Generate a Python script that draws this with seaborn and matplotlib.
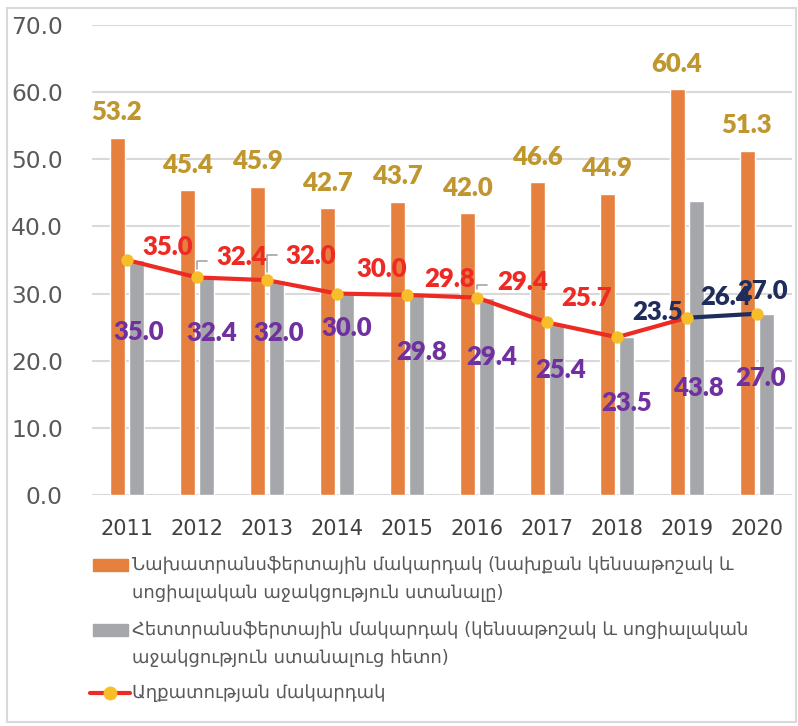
import matplotlib
matplotlib.use("Agg")
import matplotlib.pyplot as plt
import seaborn as sns
import pandas as pd
import numpy as np
from matplotlib.patches import Rectangle
from matplotlib.lines import Line2D

# --- Daten ---
years = ['2011', '2012', '2013', '2014', '2015', '2016', '2017', '2018', '2019', '2020']
pre_transfer = [53.2, 45.4, 45.9, 42.7, 43.7, 42.0, 46.6, 44.9, 60.4, 51.3]
post_transfer = [35.0, 32.4, 32.0, 30.0, 29.8, 29.4, 25.4, 23.5, 43.8, 27.0]
poverty = [35.0, 32.4, 32.0, 30.0, 29.8, 29.4, 25.7, 23.5, 26.4, 27.0]

name_pre = 'Նախատրանսֆերտային մակարդակ (նախքան կենսաթոշակ և\nսոցիալական աջակցություն ստանալը)'
name_post = 'Հետտրանսֆերտային մակարդակ (կենսաթոշակ և սոցիալական\nաջակցություն ստանալուց հետո)'
name_pov = 'Աղքատության մակարդակ'

# label layout (pixel offsets from the marker / bar)
pov_dx = [41, 45, 44, 45, 43, 46, 40, 41, 39, 6]
pov_dy = [13, 20, 24, 25, 16, 16, 24, 25, 21, 23]
post_label_y = [24.3, 24.1, 24.1, 24.9, 21.3, 20.6, 18.6, 13.7, 15.9, 17.4]
post_label_dx = [12, 15, 12, 10, 15, 15, 14, 10, 11, 4]
leaders = {1: 16, 2: 25, 5: 13}  # index -> height of leader line in px

# colours
c_orange = '#E6803F'
c_gray = '#A6A7AB'
c_red = '#EE2A24'
c_navy = '#1F2D5C'
c_yellow = '#F7BE2A'
c_gold = '#C0962E'
c_purple = '#7030A0'

df = pd.DataFrame({
    'year': years * 2,
    'value': pre_transfer + post_transfer,
    'series': ['pre'] * len(years) + ['post'] * len(years),
})

sns.set_style("white")
plt.rcParams['font.family'] = ['DejaVu Sans']

fig = plt.figure(figsize=(7.98, 7.26), dpi=100)
W, H = 798, 726
ax = fig.add_axes([92 / W, 1 - 495 / H, 700 / W, 470 / H])

sns.barplot(data=df, x='year', y='value', hue='series', palette=[c_orange, c_gray],
            width=0.57, gap=0.25, saturation=1, legend=False, ax=ax, zorder=2)

pos = np.arange(len(years))
sns.lineplot(x=pos[:9], y=poverty[:9], color=c_red, lw=3, ax=ax, zorder=3)
sns.lineplot(x=pos[8:], y=poverty[8:], color=c_navy, lw=3, ax=ax, zorder=3)
sns.scatterplot(x=pos, y=poverty, color=c_yellow, s=80, linewidth=0, ax=ax, zorder=4)

ax.set_ylim(0, 70)
ax.set_xlim(-0.5, 9.5)
ax.set_yticks(range(0, 80, 10))
ax.set_yticklabels([f'{v:.1f}' for v in range(0, 80, 10)])
ax.yaxis.grid(True, color='#D9D9D9', lw=1.5, zorder=0)
ax.set_axisbelow(True)
for s in ['left', 'right', 'top', 'bottom']:
    ax.spines[s].set_visible(False)
ax.tick_params(axis='y', length=0, pad=21, labelsize=16.8, labelcolor='#595959')
ax.tick_params(axis='x', length=0, pad=17, labelsize=15, labelcolor='#404040')
ax.set_xlabel('')
ax.set_ylabel('')

lab_font = dict(family='Lato', fontweight='heavy', fontsize=18.5)
px = 0.72  # points per pixel

# labels above orange bars
for i, v in enumerate(pre_transfer):
    ax.annotate(f'{v:.1f}', xy=(i - 10 / 70, v), xytext=(0, 25.5 * px), textcoords='offset points',
                ha='center', va='center', color=c_gold, **lab_font)

# labels for gray bars
for i, v in enumerate(post_transfer):
    ax.text(i + post_label_dx[i] / 70, post_label_y[i], f'{v:.1f}', ha='center', va='center',
            color=c_purple, **lab_font)

# poverty line labels
for i, v in enumerate(poverty):
    col = c_red if i < 7 else c_navy
    ax.annotate(f'{v:.1f}', xy=(i, v), xytext=(pov_dx[i] * px, pov_dy[i] * px),
                textcoords='offset points', ha='center', va='center', color=col,
                zorder=5, **lab_font)

# leader lines
for i, h in leaders.items():
    ax.annotate('', xy=(i, poverty[i]), xytext=(10 * px, h * px), textcoords='offset points',
                arrowprops=dict(arrowstyle='-', color='#A6A6A6', lw=1.2, shrinkA=0, shrinkB=6,
                                connectionstyle='angle,angleA=0,angleB=90,rad=0'))

# --- Legende (manuell, Symbol auf erster Zeile) ---
def fx(x):
    return x / W

def fy(y):
    return 1 - y / H

leg_txt = dict(fontsize=13, color='#595959', va='center', ha='left')
fig.add_artist(Rectangle((fx(93), fy(571)), 35 / W, 12 / H, color=c_orange, transform=fig.transFigure))
fig.add_artist(Rectangle((fx(93), fy(636)), 35 / W, 12 / H, color=c_gray, transform=fig.transFigure))
fig.add_artist(Line2D([fx(90), fx(130)], [fy(693), fy(693)], color=c_red, lw=3, transform=fig.transFigure))
fig.add_artist(Line2D([fx(110)], [fy(693)], marker='o', markersize=9, color=c_yellow, lw=0,
                      transform=fig.transFigure))
for k, line in enumerate(name_pre.split('\n')):
    fig.text(fx(132), fy(565 + 28 * k), line, **leg_txt)
for k, line in enumerate(name_post.split('\n')):
    fig.text(fx(132), fy(630 + 28 * k), line, **leg_txt)
fig.text(fx(132), fy(693), name_pov, **leg_txt)

# Rahmen
fig.add_artist(Rectangle((fx(7), fy(722)), 789 / W, 714 / H, fill=False, edgecolor='#D9D9D9',
                         lw=1.5, transform=fig.transFigure))

fig.savefig('out.png', dpi=100)
